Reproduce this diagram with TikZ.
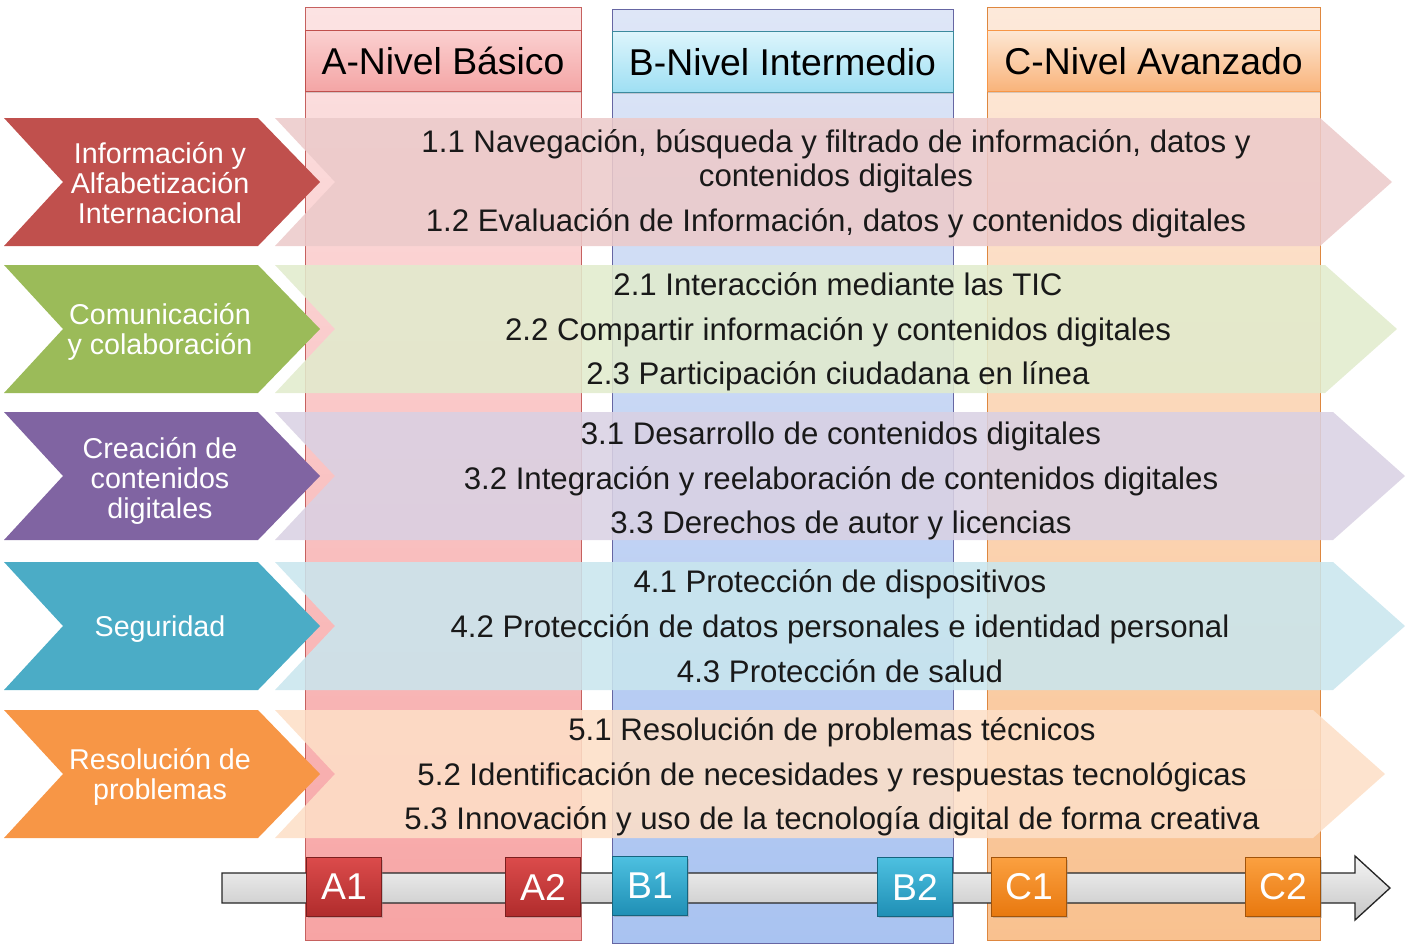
\documentclass[tikz,border=0pt]{standalone}
\usepackage{fontspec}
\setmainfont{Liberation Sans}
\usepackage{xcolor}
\usetikzlibrary{positioning,shadows}

\definecolor{rojo}{HTML}{C0504D}
\definecolor{verde}{HTML}{9BBB59}
\definecolor{morado}{HTML}{8064A2}
\definecolor{aqua}{HTML}{4BACC6}
\definecolor{naranja}{HTML}{F79646}
% columnas y cabeceras
\definecolor{colAa}{HTML}{FCE3E3}\definecolor{colAb}{HTML}{F7A4A4}
\definecolor{colBa}{HTML}{DEE6F7}\definecolor{colBb}{HTML}{A9C3F1}
\definecolor{colCa}{HTML}{FDE9DA}\definecolor{colCb}{HTML}{F9C18F}
\definecolor{cabAa}{HTML}{FBD0D0}\definecolor{cabAb}{HTML}{F4A5A5}
\definecolor{cabBa}{HTML}{DDF5FC}\definecolor{cabBb}{HTML}{9EDFF3}
\definecolor{cabCa}{HTML}{FDE7D3}\definecolor{cabCb}{HTML}{F9B37A}
% etapas
\definecolor{etAa}{HTML}{DB4B4B}\definecolor{etAb}{HTML}{B02C2C}
\definecolor{etBa}{HTML}{4DC0E0}\definecolor{etBb}{HTML}{1F8FB5}
\definecolor{etCa}{HTML}{FBA040}\definecolor{etCb}{HTML}{E8780E}

\begin{document}
\begin{tikzpicture}[x=0.75pt, y=-0.75pt,
  cabecera/.style={draw, minimum height=45.5pt, inner sep=0pt, font=\fontsize{28}{30}\selectfont,
    drop shadow={opacity=.3, shadow xshift=1pt, shadow yshift=-1.5pt}},
  tema/.style={text=white, align=center, font=\fontsize{21.5}{22.5}\selectfont},
  item/.style={align=center, text=black!90, font=\fontsize{23.4}{25.5}\selectfont},
  etapa/.style={draw, minimum width=56pt, minimum height=44pt, inner sep=0pt, text=white,
    font=\fontsize{28}{30}\selectfont, drop shadow={opacity=.35, shadow xshift=1pt, shadow yshift=-1.5pt}}
]
\useasboundingbox (0,0) rectangle (1409,947);

% columnas de nivel
\shade[top color=colAa, bottom color=colAb, draw=rojo!90] (305,7) rectangle (581,940);
\shade[top color=colBa, bottom color=colBb, draw=blue!40!black!60] (612,9) rectangle (953,943);
\shade[top color=colCa, bottom color=colCb, draw=naranja!90!black] (987,7) rectangle (1320,940);

\node[cabecera, top color=cabAa, bottom color=cabAb, draw=rojo] (nivA) at (443,61) [minimum width=207pt] {A-Nivel Básico};
\node[cabecera, top color=cabBa, bottom color=cabBb, draw=aqua!80!black] (nivB) at (782.5,62) [minimum width=255.75pt] {B-Nivel Intermedio};
\node[cabecera, top color=cabCa, bottom color=cabCb, draw=naranja] (nivC) at (1153.5,61) [minimum width=249.75pt] {C-Nivel Avanzado};

% bandas y flechas de competencias
\foreach \t/\c/\p in {118/rojo/1392, 265/verde/1397, 412/morado/1405, 562/aqua/1405, 710/naranja/1385} {
  \fill[\c!30, fill opacity=.87] (275,\t) -- (\p-72,\t) -- (\p,\t+64) -- (\p-72,\t+128) -- (275,\t+128) -- (335,\t+64) -- cycle;
  \fill[\c] (4,\t) -- (258,\t) -- (320,\t+64) -- (258,\t+128) -- (4,\t+128) -- (63,\t+64) -- cycle;
}

\node[tema] (info) at (160,183) {Información y\\Alfabetización\\Internacional};
\node[tema] (comu) at (160,332) {Comunicación\\y colaboración};
\node[tema] (crea) at (160,481) {Creación de\\contenidos\\digitales};
\node[tema] (segu) at (160,629) {Seguridad};
\node[tema] (reso) at (160,777) {Resolución de\\problemas};

\node[item] (c11) at (836,161) {1.1 Navegación, búsqueda y filtrado de información, datos y\\contenidos digitales};
\node[item] (c12) at (836,223) {1.2 Evaluación de Información, datos y contenidos digitales};
\node[item] (c21) at (838,284.5) {2.1 Interacción mediante las TIC};
\node[item] (c22) at (838,332) {2.2 Compartir información y contenidos digitales};
\node[item] (c23) at (838,376) {2.3 Participación ciudadana en línea};
\node[item] (c31) at (841,436) {3.1 Desarrollo de contenidos digitales};
\node[item] (c32) at (841,481) {3.2 Integración y reelaboración de contenidos digitales};
\node[item] (c33) at (841,525) {3.3 Derechos de autor y licencias};
\node[item] (c41) at (840,584) {4.1 Protección de dispositivos};
\node[item] (c42) at (840,629) {4.2 Protección de datos personales e identidad personal};
\node[item] (c43) at (840,671) {4.3 Protección de salud};
\node[item] (c51) at (832,732) {5.1 Resolución de problemas técnicos};
\node[item] (c52) at (832,777) {5.2 Identificación de necesidades y respuestas tecnológicas};
\node[item] (c53) at (832,821) {5.3 Innovación y uso de la tecnología digital de forma creativa};

% linea de progresion
\shade[top color=gray!8, bottom color=gray!45, draw=black!85, line width=1pt]
  (222,873) -- (1355,873) -- (1355,856) -- (1390,888) -- (1355,920) -- (1355,903) -- (222,903) -- cycle;

\node[etapa, top color=etAa, bottom color=etAb, draw=etAb!70!black] (a1) at (344,887) {A1};
\node[etapa, top color=etAa, bottom color=etAb, draw=etAb!70!black] (a2) at (543,887) {A2};
\node[etapa, top color=etBa, bottom color=etBb, draw=etBb!70!black] (b1) at (650,886) {B1};
\node[etapa, top color=etBa, bottom color=etBb, draw=etBb!70!black] (b2) at (915,887) {B2};
\node[etapa, top color=etCa, bottom color=etCb, draw=etCb!70!black] (c1) at (1029,887) {C1};
\node[etapa, top color=etCa, bottom color=etCb, draw=etCb!70!black] (c2) at (1283,887) {C2};
\end{tikzpicture}
\end{document}
